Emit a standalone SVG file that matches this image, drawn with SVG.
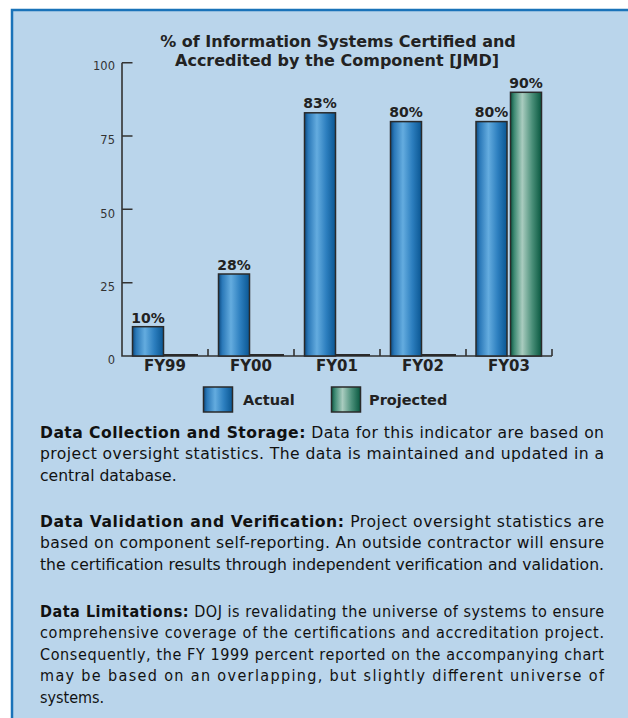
<svg xmlns="http://www.w3.org/2000/svg" width="628" height="718" viewBox="0 0 628 718">
<defs>
<linearGradient id="gA" x1="0" y1="0" x2="1" y2="0">
<stop offset="0" stop-color="#0c4a80"/>
<stop offset="0.12" stop-color="#2a78b8"/>
<stop offset="0.4" stop-color="#64acdf"/>
<stop offset="0.7" stop-color="#2d7fbf"/>
<stop offset="1" stop-color="#0a5692"/>
</linearGradient>
<linearGradient id="gP" x1="0" y1="0" x2="1" y2="0">
<stop offset="0" stop-color="#0b5541"/>
<stop offset="0.12" stop-color="#3f8a73"/>
<stop offset="0.38" stop-color="#a9ccbf"/>
<stop offset="0.7" stop-color="#4a8f79"/>
<stop offset="1" stop-color="#08573f"/>
</linearGradient>
<style>
.bar{stroke:#2a2a2a;stroke-width:1.5}
.a{fill:url(#gA)}
.p{fill:url(#gP)}
.ax{stroke:#333;stroke-width:1.6;fill:none}
.zero{stroke:#2a2a2a;stroke-width:2}
.t{font-family:"DejaVu Sans",Verdana,sans-serif;fill:#222}
.b{font-weight:bold}
.title{font-size:16px;font-weight:bold;text-anchor:middle}
.yl{font-size:11.5px;text-anchor:end;fill:#333}
.vl{font-size:14px;font-weight:bold;text-anchor:middle}
.xl{font-size:15px;font-weight:bold;text-anchor:middle}
.lg{font-size:14.5px;font-weight:bold}
.body{font-size:15.6px;fill:#111}
.body3{font-size:16px;fill:#111;font-stretch:condensed;font-family:"DejaVu Sans Condensed","DejaVu Sans",sans-serif}
</style>
</defs>
<rect x="0" y="0" width="628" height="718" fill="#ffffff"/>
<rect x="12" y="10" width="620" height="712" fill="#bad5eb" stroke="#1a73b9" stroke-width="2.5"/>

<g id="title" class="t">
<text class="t title" x="338" y="47">% of Information Systems Certified and</text>
<text class="t title" x="337" y="66">Accredited by the Component [JMD]</text>
</g>

<g id="axes">
<path class="ax" d="M122,62.7 V356 H552 M122,62.7 H132.5 M122,136 H132.5 M122,209.3 H132.5 M122,282.7 H132.5 M208,349 V356 M294,349 V356 M380,349 V356 M466,349 V356 M552,349 V356"/>
<text class="t yl" x="115" y="70">100</text>
<text class="t yl" x="115" y="144">75</text>
<text class="t yl" x="115" y="217.5">50</text>
<text class="t yl" x="115" y="291">25</text>
<text class="t yl" x="115" y="363.5">0</text>
</g>

<g id="fy99">
<rect class="bar a" x="132.5" y="326.7" width="31" height="29.3"/>
<line class="zero" x1="164" y1="355" x2="198" y2="355"/>
<text class="t vl" x="148" y="322.5">10%</text>
<text class="t xl" x="165" y="370.5">FY99</text>
</g>
<g id="fy00">
<rect class="bar a" x="218.5" y="274" width="31" height="82"/>
<line class="zero" x1="250" y1="355" x2="284" y2="355"/>
<text class="t vl" x="234" y="269.5">28%</text>
<text class="t xl" x="251" y="370.5">FY00</text>
</g>
<g id="fy01">
<rect class="bar a" x="304.5" y="112.8" width="31" height="243.2"/>
<line class="zero" x1="336" y1="355" x2="370" y2="355"/>
<text class="t vl" x="320" y="107.5">83%</text>
<text class="t xl" x="337" y="370.5">FY01</text>
</g>
<g id="fy02">
<rect class="bar a" x="390.5" y="121.6" width="31" height="234.4"/>
<line class="zero" x1="422" y1="355" x2="456" y2="355"/>
<text class="t vl" x="406" y="116.5">80%</text>
<text class="t xl" x="423" y="370.5">FY02</text>
</g>
<g id="fy03">
<rect class="bar a" x="476" y="121.6" width="31" height="234.4"/>
<rect class="bar p" x="510.5" y="92.3" width="31" height="263.7"/>
<text class="t vl" x="491.5" y="116.5">80%</text>
<text class="t vl" x="526" y="87.5">90%</text>
<text class="t xl" x="509" y="370.5">FY03</text>
</g>

<g id="legend">
<rect class="bar a" x="203.5" y="387" width="29" height="25"/>
<text class="t lg" x="243" y="405">Actual</text>
<rect class="bar p" x="331.5" y="387" width="29" height="25"/>
<text class="t lg" x="369" y="405">Projected</text>
</g>

<g id="para1" class="t">
<text class="t body" x="40" y="437.5" textLength="564" lengthAdjust="spacing"><tspan class="b">Data Collection and Storage:</tspan> Data for this indicator are based on</text>
<text class="t body" x="40" y="459" textLength="564" lengthAdjust="spacing">project oversight statistics. The data is maintained and updated in a</text>
<text class="t body" x="40" y="480.5">central database.</text>
</g>

<g id="para2" class="t">
<text class="t body" x="40" y="526.5" textLength="564" lengthAdjust="spacing"><tspan class="b">Data Validation and Verification:</tspan> Project oversight statistics are</text>
<text class="t body" x="40" y="548" textLength="564" lengthAdjust="spacing">based on component self-reporting. An outside contractor will ensure</text>
<text class="t body" x="40" y="569.5" textLength="564" lengthAdjust="spacingAndGlyphs">the certification results through independent verification and validation.</text>
</g>

<g id="para3" class="t">
<text class="t body3" x="40" y="616.5" textLength="564" lengthAdjust="spacing"><tspan class="b">Data Limitations:</tspan> DOJ is revalidating the universe of systems to ensure</text>
<text class="t body3" x="40" y="638" textLength="564" lengthAdjust="spacing">comprehensive coverage of the certifications and accreditation project.</text>
<text class="t body3" x="40" y="659.5" textLength="564" lengthAdjust="spacing">Consequently, the FY 1999 percent reported on the accompanying chart</text>
<text class="t body3" x="40" y="681" textLength="564" lengthAdjust="spacing">may be based on an overlapping, but slightly different universe of</text>
<text class="t body3" x="40" y="702.5">systems.</text>
</g>
</svg>
